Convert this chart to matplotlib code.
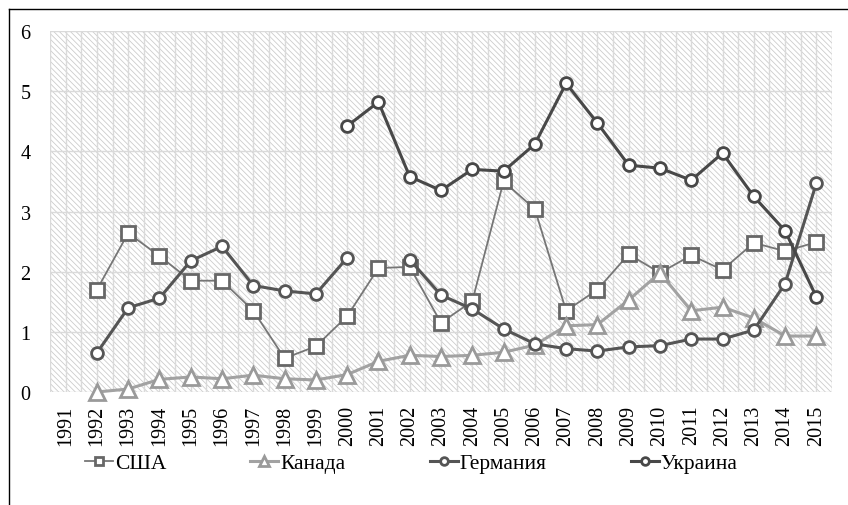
import numpy as np
import matplotlib
matplotlib.use("Agg")
import matplotlib.pyplot as plt
from matplotlib.patches import Rectangle
from matplotlib.lines import Line2D

plt.rcParams["font.family"] = ["Liberation Serif", "DejaVu Serif"]
plt.rcParams["hatch.linewidth"] = 0.6

years = [str(y) for y in range(1991, 2016)]
nan = np.nan

usa = [nan, 1.70, 2.64, 2.26, 1.85, 1.85, 1.35, 0.56, 0.76, 1.26, 2.06, 2.08,
       1.15, 1.51, 3.50, 3.04, 1.35, 1.70, 2.29, 1.98, 2.27, 2.03, 2.48, 2.34, 2.49]
canada = [nan, 0.00, 0.05, 0.21, 0.25, 0.22, 0.28, 0.22, 0.20, 0.29, 0.51, 0.61,
          0.59, 0.61, 0.66, 0.78, 1.10, 1.12, 1.53, 1.98, 1.35, 1.41, 1.23, 0.93, 0.93]
germany = [nan, 0.65, 1.40, 1.56, 2.18, 2.42, 1.77, 1.68, 1.63, 2.23, nan, 2.20,
           1.61, 1.38, 1.05, 0.80, 0.72, 0.68, 0.75, 0.77, 0.88, 0.88, 1.03, 1.80, 3.47]
ukraine = [nan, nan, nan, nan, nan, nan, nan, nan, nan, 4.42, 4.82, 3.58,
           3.35, 3.70, 3.67, 4.12, 5.13, 4.47, 3.77, 3.72, 3.52, 3.97, 3.25, 2.68, 1.58]

x = np.arange(len(years))

fig = plt.figure(figsize=(8.48, 5.06), dpi=100)
ax = fig.add_axes([50 / 848, 113 / 506, 782 / 848, 361 / 506])

# hatched background
bg = Rectangle((0, 0), 1, 1, transform=ax.transAxes, facecolor="white",
               edgecolor="#cccccc", hatch="\\" * 6, linewidth=0, zorder=0)
ax.add_patch(bg)

# grid
for v in range(0, 7):
    ax.axhline(v, color="#dadada", linewidth=1, zorder=1)
for v in np.arange(-0.5, 24.51, 0.5):
    ax.axvline(v, color="#dadada", linewidth=1, zorder=1)

ax.plot(x, usa, color="#767676", linewidth=1.3, marker="s", markersize=9.5,
        markerfacecolor="white", markeredgecolor="#676767", markeredgewidth=2,
        label="США", zorder=3, clip_on=False)
ax.plot(x, canada, color="#a2a2a2", linewidth=2.2, marker="^", markersize=11,
        markerfacecolor="white", markeredgecolor="#9a9a9a", markeredgewidth=2,
        label="Канада", zorder=3, clip_on=False)
ax.plot(x, germany, color="#555555", linewidth=2.2, marker="o", markersize=8.5,
        markerfacecolor="white", markeredgecolor="#555555", markeredgewidth=2,
        label="Германия", zorder=4, clip_on=False)
ax.plot(x, ukraine, color="#484848", linewidth=2.2, marker="o", markersize=8.5,
        markerfacecolor="white", markeredgecolor="#484848", markeredgewidth=2,
        label="Украина", zorder=4, clip_on=False)

ax.set_xlim(-0.5, 24.5)
ax.set_ylim(0, 6)
ax.set_yticks(range(0, 7))
ax.set_xticks(x)
ax.set_xticklabels(years, rotation=90)
ax.tick_params(axis="both", length=0, labelsize=14.5)
ax.tick_params(axis="y", pad=14)
ax.tick_params(axis="x", pad=9)
for s in ax.spines.values():
    s.set_visible(False)
ax.set_facecolor("white")

fig.legend(loc="center", bbox_to_anchor=(0.485, 1 - 464 / 506), ncol=4,
           frameon=False, fontsize=15.5, handlelength=1.3, columnspacing=3.9,
           handletextpad=0.1, markerscale=0.65)

# outer frame (top and left edges)
fig.add_artist(Line2D([9 / 848, 1.0], [1 - 10 / 506, 1 - 10 / 506],
                      transform=fig.transFigure, color="black", linewidth=1))
fig.add_artist(Line2D([9 / 848, 9 / 848], [0, 1 - 10 / 506],
                      transform=fig.transFigure, color="black", linewidth=1))

fig.savefig("out.png", dpi=100)
